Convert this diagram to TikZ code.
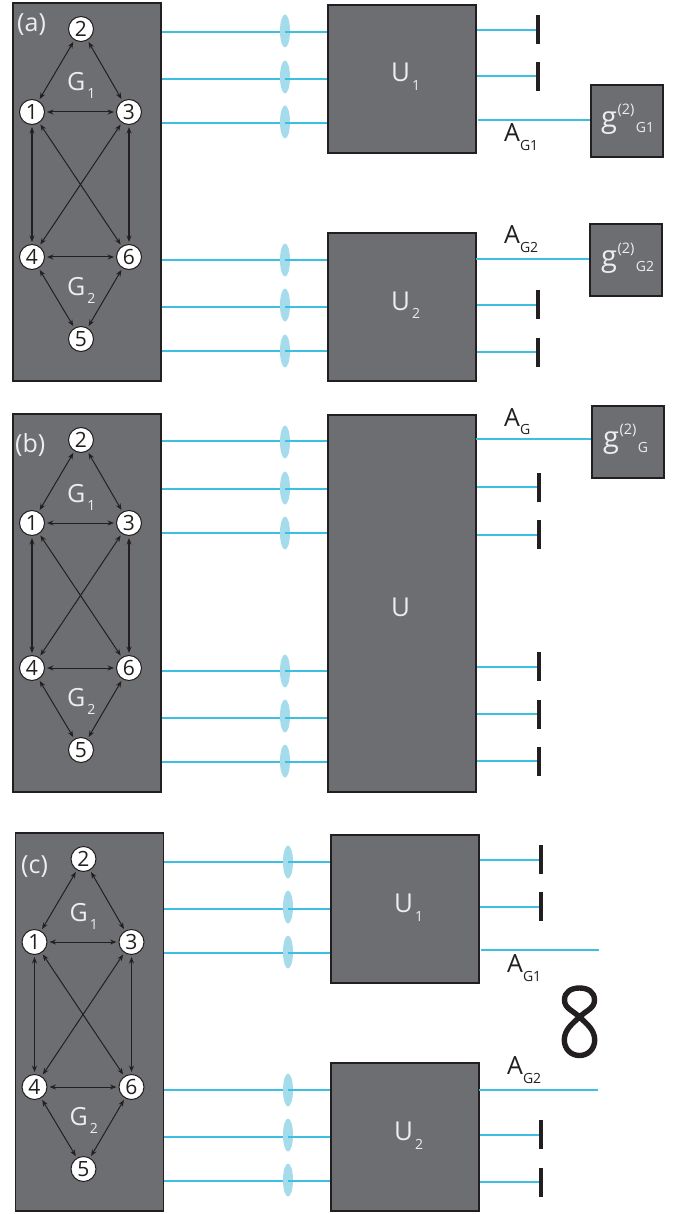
\documentclass[tikz,border=0pt]{standalone}
\usepackage{fontspec}
\setmainfont{Open Sans}
\usetikzlibrary{arrows.meta,shapes.geometric}
\definecolor{boxgray}{HTML}{6D6E71}
\definecolor{inkdark}{HTML}{231F20}
\definecolor{beam}{HTML}{3CBFE0}
\definecolor{lensblue}{HTML}{A5DCEB}
\definecolor{pale}{HTML}{EDEDEE}
\newcommand{\fsz}[1]{\fontsize{#1}{#1}\selectfont}
\newcommand{\lowtxt}[2]{\raisebox{-#1pt}{\fsz{14}#2}}
\newcommand{\uptxt}[2]{\raisebox{#1pt}{\fsz{14.5}#2}}
\newcommand{\gtwo}[1]{\fsz{29}g\kern0.5pt\uptxt{13}{(2)}\kern1.5pt\lowtxt{5}{#1}}
\tikzset{
  x=1pt,y=-1pt,
  panelbox/.style={draw=inkdark,line width=1.2pt,fill=boxgray,inner sep=0pt},
  vert/.style={circle,draw=inkdark,fill=white,line width=1pt,minimum size=25pt,inner sep=0pt,text=inkdark,font=\fsz{21}},
  link/.style={draw=inkdark,line width=1pt,{Stealth[length=6.5pt,width=5pt]}-{Stealth[length=6.5pt,width=5pt]},shorten >=2pt,shorten <=2pt},
  heavylink/.style={link,line width=1.3pt},
  beamline/.style={draw=beam,line width=1.6pt},
  lens/.style={ellipse,fill=lensblue,minimum width=10pt,minimum height=33pt,inner sep=0pt},
  stopbar/.style={fill=inkdark,minimum width=4pt,minimum height=29pt,inner sep=0pt},
  panellabel/.style={anchor=base west,inner sep=0pt,text=pale,font=\fsz{25}},
  outlabel/.style={anchor=base west,inner sep=0pt,text=inkdark,font=\fsz{25}},
}
% prefix, dx, dy, label text, label x, label baseline y
\newcommand{\graphpanel}[6]{
  \node[panelbox,minimum width=148pt,minimum height=378pt] (#1p) at (#2+87,#3+192) {};
  \node[panellabel] (#1lab) at (#5,#6) {#4};
  \node[vert] (#1n1) at (#2+32,#3+112) {1};
  \node[vert] (#1n2) at (#2+81,#3+29) {2};
  \node[vert] (#1n3) at (#2+129,#3+112) {3};
  \node[vert] (#1n4) at (#2+32,#3+257) {4};
  \node[vert] (#1n5) at (#2+81,#3+339) {5};
  \node[vert] (#1n6) at (#2+129,#3+257) {6};
  \foreach \a/\b in {1/2,2/3,1/3,1/6,3/4,4/6,4/5,5/6}
    \draw[link] (#1n\a) -- (#1n\b);
  \foreach \a/\b in {1/4,3/6}
    \draw[heavylink] (#1n\a) -- (#1n\b);
  \node[panellabel] (#1ga) at (#2+67,#3+91) {G\kern2pt\lowtxt{8}{1}};
  \node[panellabel] (#1gb) at (#2+67,#3+295) {G\kern2pt\lowtxt{8}{2}};
}
% name, panel, box, lens x, beam y, lens y
\newcommand{\inbeam}[6]{
  \coordinate (#1s) at (#2.east |- 0,#5);
  \coordinate (#1c) at (#4,#5);
  \coordinate (#1e) at (#3.west |- 0,#5);
  \draw[beamline] (#1s) -- (#1c);
  \node[lens] (#1) at (#4,#6) {};
  \draw[beamline] (#1c) -- (#1e);
}
% name, box, y, bar x, bar y centre
\newcommand{\outbeam}[5]{
  \node[stopbar] (#1) at (#4,#5) {};
  \coordinate (#1s) at (#2.east |- 0,#3);
  \draw[beamline] (#1s) -- (#1.west |- 0,#3);
}
\begin{document}
\begin{tikzpicture}
\useasboundingbox (0,0) rectangle (688,1214);
% ---------- (a)
\graphpanel{a}{0}{0}{(a)}{17}{32}
\node[panelbox,minimum width=148pt,minimum height=148pt] (aua) at (402,79) {};
\node[panellabel,font=\fsz{26}] (auat) at (391,82) {U\kern2pt\lowtxt{9}{1}};
\node[panelbox,minimum width=148pt,minimum height=148pt] (aub) at (402,307) {};
\node[panellabel,font=\fsz{26}] (aubt) at (391,310) {U\kern2pt\lowtxt{9}{2}};
\inbeam{ai1}{ap}{aua}{285}{32}{31}
\inbeam{ai2}{ap}{aua}{285}{79}{77}
\inbeam{ai3}{ap}{aua}{285}{123}{122}
\inbeam{ai4}{ap}{aub}{285}{260}{260}
\inbeam{ai5}{ap}{aub}{285}{307}{305}
\inbeam{ai6}{ap}{aub}{285}{351}{351}
\outbeam{ao1}{aua}{30}{538}{29.5}
\outbeam{ao2}{aua}{76}{538}{76.5}
\outbeam{ao5}{aub}{305}{538}{304.5}
\outbeam{ao6}{aub}{352}{538}{352.5}
\node[panelbox,minimum width=72pt,minimum height=72pt] (aga) at (627,121) {};
\node[panellabel] (agat) at (601,128) {\gtwo{G1}};
\node[panelbox,minimum width=72pt,minimum height=72pt] (agb) at (626,260) {};
\node[panellabel] (agbt) at (601,267) {\gtwo{G2}};
\coordinate (aos) at (478,120);
\draw[beamline] (aos) -- (aga.west |- aos);
\coordinate (aot) at (476,259);
\draw[beamline] (aot) -- (agb.west |- aot);
\node[outlabel] (ala) at (504,142) {A\lowtxt{9}{G1}};
\node[outlabel] (alb) at (504,244) {A\lowtxt{9}{G2}};
% ---------- (b)
\graphpanel{b}{0}{411}{(b)}{15}{452}
\node[panelbox,minimum width=148pt,minimum height=377pt] (bu) at (402,603.5) {};
\node[panellabel,font=\fsz{26}] (but) at (391,616) {U};
\inbeam{bi1}{bp}{bu}{285}{441}{442}
\inbeam{bi2}{bp}{bu}{285}{489}{488}
\inbeam{bi3}{bp}{bu}{285}{533}{533}
\inbeam{bi4}{bp}{bu}{285}{671}{671}
\inbeam{bi5}{bp}{bu}{285}{718}{716}
\inbeam{bi6}{bp}{bu}{285}{762}{761}
\outbeam{bo2}{bu}{487}{539}{487}
\outbeam{bo3}{bu}{535}{539}{534}
\outbeam{bo4}{bu}{667}{539}{666}
\outbeam{bo5}{bu}{714}{539}{714}
\outbeam{bo6}{bu}{761}{539}{761}
\node[panelbox,minimum width=72pt,minimum height=72pt] (bg) at (628,442) {};
\node[panellabel] (bgt) at (603,447) {\gtwo{G}};
\coordinate (bos) at (476,439);
\draw[beamline] (bos) -- (bg.west |- bos);
\node[outlabel] (bl) at (504,426) {A\lowtxt{8}{G}};
% ---------- (c)
\graphpanel{c}{2.5}{830}{(c)}{21}{873}
\node[panelbox,minimum width=148pt,minimum height=148pt] (cua) at (405,909) {};
\node[panellabel,font=\fsz{26}] (cuat) at (394,912) {U\kern2pt\lowtxt{9}{1}};
\node[panelbox,minimum width=148pt,minimum height=148pt] (cub) at (405,1137) {};
\node[panellabel,font=\fsz{26}] (cubt) at (394,1140) {U\kern2pt\lowtxt{9}{2}};
\inbeam{ci1}{cp}{cua}{288}{862}{862}
\inbeam{ci2}{cp}{cua}{288}{909}{907}
\inbeam{ci3}{cp}{cua}{288}{953}{952}
\inbeam{ci4}{cp}{cub}{288}{1090}{1090}
\inbeam{ci5}{cp}{cub}{288}{1137}{1135}
\inbeam{ci6}{cp}{cub}{288}{1181}{1180}
\outbeam{co1}{cua}{860}{541}{859.5}
\outbeam{co2}{cua}{907}{541}{906.5}
\outbeam{co5}{cub}{1135}{541}{1134.5}
\outbeam{co6}{cub}{1182}{541}{1182.5}
\coordinate (cos) at (481,950);
\coordinate (coe) at (599,950);
\draw[beamline] (cos) -- (coe);
\coordinate (cot) at (479,1090);
\coordinate (cof) at (598,1090);
\draw[beamline] (cot) -- (cof);
\node[outlabel] (cla) at (507,972) {A\lowtxt{9}{G1}};
\node[outlabel] (clb) at (507,1074) {A\lowtxt{9}{G2}};
% figure-of-eight symbol
\draw[inkdark,line width=5.4pt]
  (579.5,1017) .. controls (587,1010) and (594.5,1008) .. (594.5,1000)
  .. controls (594.5,992) and (588,988) .. (579.5,988)
  .. controls (571,988) and (564.5,992) .. (564.5,1000)
  .. controls (564.5,1008) and (572,1010) .. (579.5,1017)
  .. controls (587,1024) and (594.7,1030) .. (594.7,1040)
  .. controls (594.7,1049) and (588,1055.5) .. (579.5,1055.5)
  .. controls (571,1055.5) and (564.3,1049) .. (564.3,1040)
  .. controls (564.3,1030) and (572,1024) .. (579.5,1017) -- cycle;
\end{tikzpicture}
\end{document}
